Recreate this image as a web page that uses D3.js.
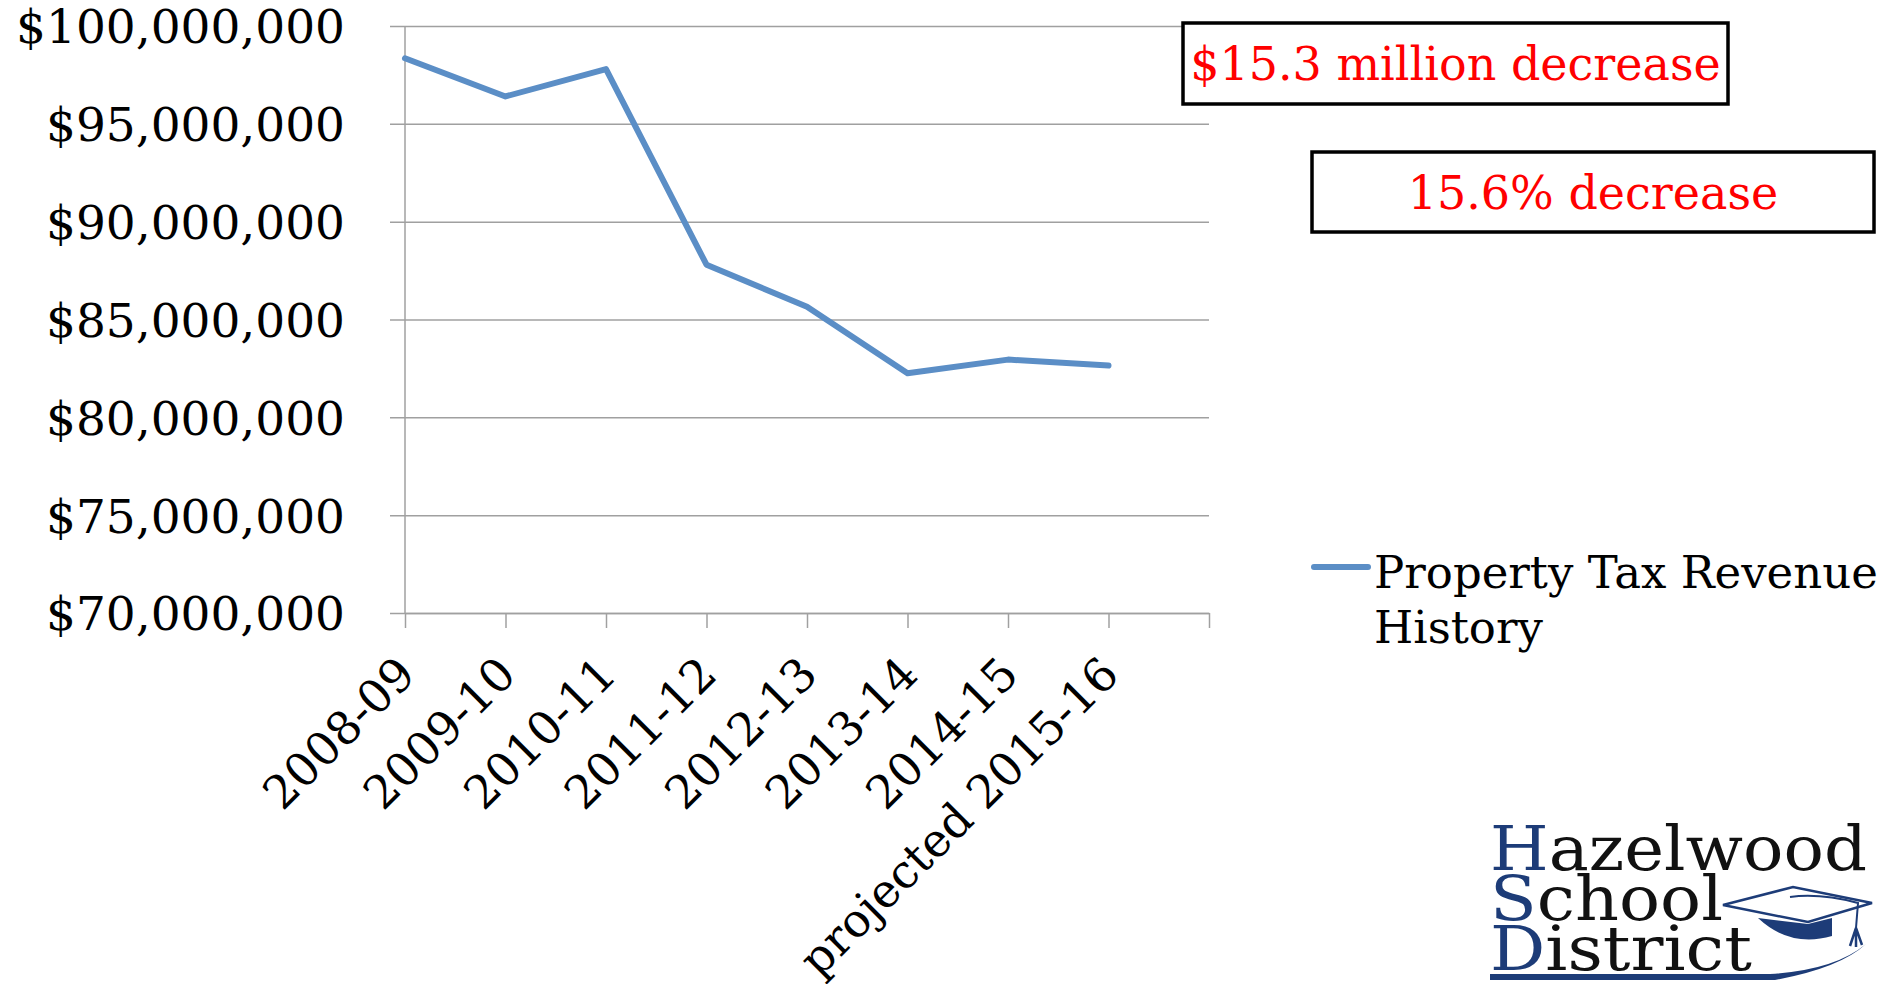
<!DOCTYPE html>
<html>
<head>
<meta charset="utf-8">
<script src="https://cdn.jsdelivr.net/npm/d3@7"></script>
<style>
  body { margin: 0; background: #fff; }
  text { font-family: "DejaVu Serif", serif; }
</style>
</head>
<body>
<div id="chart-area"></div>
<script>
// data
var years = ["2008-09", "2009-10", "2010-11", "2011-12", "2012-13", "2013-14", "2014-15", "projected 2015-16"];
var revenue = [98350000, 96400000, 97800000, 87800000, 85650000, 82250000, 82950000, 82650000];
var yTicks = [70000000, 75000000, 80000000, 85000000, 90000000, 95000000, 100000000];
var seriesName = ["Property Tax Revenue", "History"];
var notes = ["$15.3 million decrease", "15.6% decrease"];

var margin = { top: 26, left: 405 },
    width = 804,
    height = 587;

var svg = d3.select("#chart-area")
    .append("svg")
    .attr("width", 1897)
    .attr("height", 984);

var g = svg.append("g")
    .attr("transform", "translate(" + margin.left + "," + margin.top + ")");

// one extra slot on the right, the axis runs past the last point
var x = d3.scaleLinear()
    .domain([0, years.length])
    .range([0, width]);

var y = d3.scaleLinear()
    .domain([70000000, 100000000])
    .range([height, 0]);

// gridlines + y labels (axis sits on the right edge so ticks span the plot)
var yAxisGroup = g.append("g")
    .attr("class", "y axis")
    .attr("transform", "translate(" + width + ",0)")
    .call(d3.axisLeft(y)
        .tickValues(yTicks)
        .tickSize(width + 15)
        .tickPadding(45)
        .tickFormat(d => "$" + d3.format(",")(d)));

yAxisGroup.select(".domain").remove();
yAxisGroup.selectAll("line")
    .attr("stroke", "#a0a0a0")
    .attr("stroke-width", 1.5);
yAxisGroup.selectAll("text")
    .attr("fill", "#000")
    .attr("font-size", 47)
    .attr("dy", "0.36em")
    .style("font-family", "'DejaVu Serif', serif");

// y axis line
g.append("line")
    .attr("x1", 0).attr("x2", 0)
    .attr("y1", 0).attr("y2", height)
    .attr("stroke", "#a0a0a0")
    .attr("stroke-width", 1.5);

// x axis
var xAxisGroup = g.append("g")
    .attr("class", "x axis")
    .attr("transform", "translate(0," + height + ")")
    .call(d3.axisBottom(x)
        .tickValues(d3.range(years.length + 1))
        .tickSize(15)
        .tickSizeOuter(0)
        .tickFormat(""));

xAxisGroup.selectAll("line, path")
    .attr("stroke", "#a0a0a0")
    .attr("stroke-width", 1.5);

xAxisGroup.selectAll(".year-label")
    .data(years)
    .enter().append("text")
    .attr("class", "year-label")
    .attr("transform", (d, i) => "translate(" + (x(i) + 1) + ",52) rotate(-45)")
    .attr("text-anchor", "end")
    .attr("dy", "0.36em")
    .attr("fill", "#000")
    .attr("font-size", 46)
    .style("font-family", "'DejaVu Serif', serif")
    .text(d => d);

// revenue line
var line = d3.line()
    .x((d, i) => x(i))
    .y(d => y(d));

g.append("path")
    .datum(revenue)
    .attr("d", line)
    .attr("fill", "none")
    .attr("stroke", "#5b8ec6")
    .attr("stroke-width", 6)
    .attr("stroke-linejoin", "round")
    .attr("stroke-linecap", "round");

// annotation boxes
var boxes = [
    { x: 1183, y: 23, w: 545, h: 81, text: notes[0] },
    { x: 1312, y: 152, w: 562, h: 80, text: notes[1] }
];

boxes.forEach(b => {
    svg.append("rect")
        .attr("x", b.x).attr("y", b.y)
        .attr("width", b.w).attr("height", b.h)
        .attr("fill", "#fff")
        .attr("stroke", "#000")
        .attr("stroke-width", 3.5);
    svg.append("text")
        .attr("x", b.x + b.w / 2)
        .attr("y", b.y + b.h / 2)
        .attr("dy", "0.36em")
        .attr("text-anchor", "middle")
        .attr("fill", "#ff0000")
        .attr("font-size", 46)
        .text(b.text);
});

// legend
var legend = svg.append("g")
    .attr("transform", "translate(1314,567)");

legend.append("line")
    .attr("x1", 0).attr("x2", 54)
    .attr("stroke", "#5b8ec6")
    .attr("stroke-width", 6)
    .attr("stroke-linecap", "round");

legend.selectAll("text")
    .data(seriesName)
    .enter().append("text")
    .attr("x", 60)
    .attr("y", (d, i) => 21 + i * 55)
    .attr("fill", "#000")
    .attr("font-size", 45)
    .text(d => d);

// district logo
var blue = "#1d3c78";
var logo = svg.append("g")
    .style("font-family", "'Liberation Serif', serif");

var logoLines = [
    { first: "H", rest: "azelwood", y: 870, len: 377 },
    { first: "S", rest: "chool", y: 920, len: 233 },
    { first: "D", rest: "istrict", y: 970, len: 262 }
];

logoLines.forEach(l => {
    var t = logo.append("text")
        .attr("x", 1490)
        .attr("y", l.y)
        .attr("font-size", 62)
        .attr("textLength", l.len)
        .attr("lengthAdjust", "spacingAndGlyphs");
    t.append("tspan").attr("fill", blue).text(l.first);
    t.append("tspan").attr("fill", "#111").text(l.rest);
});

// swoosh under the name
logo.append("path")
    .attr("d", "M1490,974 L1770,974 Q1835,970 1866,944 Q1840,968 1775,980 L1490,980 Z")
    .attr("fill", blue);

// mortarboard
logo.append("path")
    .attr("d", "M1723,905 L1793,887 L1872,903 L1808,922 Z")
    .attr("fill", "#fff")
    .attr("stroke", blue)
    .attr("stroke-width", 2.5);
logo.append("path")
    .attr("d", "M1758,918 Q1790,948 1832,936 L1832,918 L1808,924 Z")
    .attr("fill", blue);
logo.append("path")
    .attr("d", "M1790,897 Q1820,893 1858,903 L1856,928")
    .attr("fill", "none")
    .attr("stroke", blue)
    .attr("stroke-width", 2);
logo.append("path")
    .attr("d", "M1856,928 L1850,946 M1856,928 L1856,947 M1856,928 L1862,945")
    .attr("stroke", blue)
    .attr("stroke-width", 2.5);
</script>
</body>
</html>
